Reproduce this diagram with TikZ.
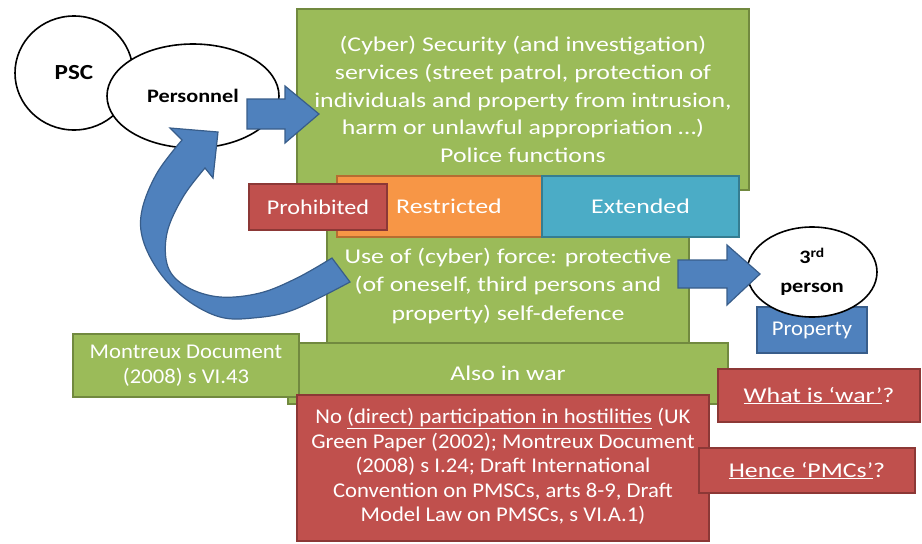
\documentclass[tikz,border=0pt]{standalone}
\usepackage{fontspec}
\setmainfont{Carlito}
\newfontfamily\fontWideA{Carlito}[FakeStretch=1.23]
\newfontfamily\fontWideB{Carlito}[FakeStretch=1.08]
\newfontfamily\fontWideP{Carlito}[FakeStretch=1.15]
\newfontfamily\fontWideL{Carlito}[FakeStretch=1.17]
\usetikzlibrary{shapes.geometric}
\definecolor{gfill}{HTML}{9BBB59}\definecolor{gdraw}{HTML}{71893F}
\definecolor{rfill}{HTML}{C0504D}\definecolor{rdraw}{HTML}{8C3836}
\definecolor{ofill}{HTML}{F79646}\definecolor{odraw}{HTML}{B66D31}
\definecolor{cfill}{HTML}{4BACC6}\definecolor{cdraw}{HTML}{357D91}
\definecolor{bfill}{HTML}{4F81BD}\definecolor{bdraw}{HTML}{385D8A}
\begin{document}
\begin{tikzpicture}[x=1pt,y=-1pt,
  box/.style={rectangle, draw, line width=1.4pt, inner sep=0pt, align=center,
    text=white, font=\fontWideA\fontsize{21}{27.75}\selectfont},
  fontb/.style={font=\fontWideB\fontsize{21}{24.5}\selectfont},
  gbox/.style={box, fill=gfill, draw=gdraw},
  rbox/.style={box, fill=rfill, draw=rdraw},
  obox/.style={box, fill=ofill, draw=odraw},
  cbox/.style={box, fill=cfill, draw=cdraw},
  bbox/.style={box, fill=bfill, draw=bdraw},
  oval/.style={ellipse, draw=black, line width=1.6pt, fill=white, inner sep=0pt, align=center,
    font=\fontWideL\bfseries\fontsize{19}{29}\selectfont},
  blockarrow/.style={fill=bfill, draw=bdraw, line width=1.2pt, line join=miter}
]
\useasboundingbox (0,0) rectangle (922,544);
% ellipses top-left
\node[oval, minimum width=118pt, minimum height=114pt, font=\fontWideL\bfseries\fontsize{21.5}{26}\selectfont] (psc) at (74,73) {PSC};
\node[oval, minimum width=172pt, minimum height=104pt] (pers) at (193,96) {\raisebox{-2pt}{Personnel}};
% main box
\node[gbox, minimum width=452pt, minimum height=181pt] (main) at (523,99.5)
  {(Cyber) Security (and investigation)\\ services (street patrol, protection of\\ individuals and property from intrusion,\\ harm or unlawful appropriation …)\\ Police functions};
% force box
\node[gbox, minimum width=362pt, minimum height=114pt, font=\fontWideA\fontsize{21}{28.5}\selectfont] (force) at (508,286)
  {Use of (cyber) force: protective\\ (of oneself, third persons and\\ property) self-defence};
% bars
\node[obox, minimum width=224pt, minimum height=61pt] (restr) at (449,206.5) {Restricted};
\node[cbox, minimum width=197pt, minimum height=61pt] (ext) at (640.5,206.5) {Extended};
\node[rbox, minimum width=138pt, minimum height=46pt, font=\fontWideP\fontsize{21}{25}\selectfont] (prohib) at (318,207) {Prohibited};
% war
\node[gbox, minimum width=440pt, minimum height=61pt] (war) at (508,373.5) {Also in war};
\node[gbox, fontb, minimum width=226pt, minimum height=63pt] (montreux) at (186,365.5) {Montreux Document\\ (2008) s VI.43};
\node[rbox, fontb, minimum width=412pt, minimum height=146pt] (nodph) at (503,468)
  {\raisebox{-3pt}{\begin{tabular}{@{}c@{}}No \underline{(direct) participation in hostilities} (UK\\ Green Paper (2002); Montreux Document\\ (2008) s I.24; Draft International\\ Convention on PMSCs, arts 8-9, Draft\\ Model Law on PMSCs, s VI.A.1)\end{tabular}}};
\node[rbox, minimum width=202pt, minimum height=53pt] (whatwar) at (819,395.5) {\raisebox{-2pt}{\underline{What is ‘war’}?}};
\node[rbox, minimum width=216pt, minimum height=45pt] (hence) at (807,470.5) {\raisebox{-1.5pt}{\underline{Hence ‘PMCs’}?}};
% third person
\node[bbox, fontb, minimum width=110pt, minimum height=46pt] (prop) at (812,330) {Property};
\node[oval, minimum width=130pt, minimum height=90pt] (third) at (812,272) {3\textsuperscript{rd}\\person};
% straight block arrows
\filldraw[blockarrow] (247,99) -- (285,99) -- (285,86) -- (319,114) -- (285,143) -- (285,129) -- (247,129) -- cycle;
\filldraw[blockarrow] (678,260) -- (727,260) -- (727,245) -- (760,274) -- (727,305) -- (727,288) -- (678,288) -- cycle;
% curved arrow from force box back to personnel
\filldraw[blockarrow]
  plot[smooth, tension=0.6] coordinates {(350,282) (293,310) (253,318) (220,317) (187,300) (160,273) (143,240) (142,210) (157,173) (182,140)}
  -- (170,128) -- (218,132) -- (213,178)
  -- plot[smooth, tension=0.6] coordinates {(205,168) (183,197) (167,233) (168,267) (187,287) (220,297) (260,293) (297,278) (332,258)}
  -- cycle;
\end{tikzpicture}
\end{document}
